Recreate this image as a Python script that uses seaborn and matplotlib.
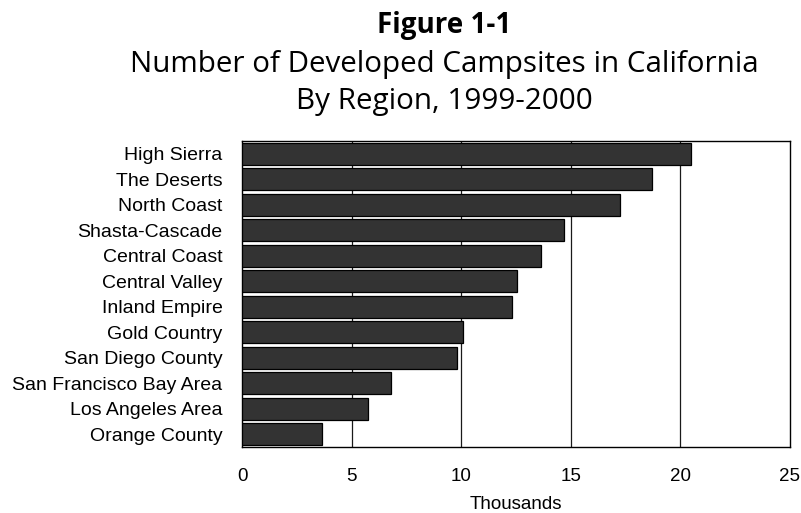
import matplotlib
matplotlib.use("Agg")
import matplotlib.pyplot as plt
import seaborn as sns
import pandas as pd

regions = [
    "High Sierra", "The Deserts", "North Coast", "Shasta-Cascade",
    "Central Coast", "Central Valley", "Inland Empire", "Gold Country",
    "San Diego County", "San Francisco Bay Area", "Los Angeles Area",
    "Orange County",
]
campsites_thousands = [20.5, 18.7, 17.25, 14.7, 13.65, 12.55, 12.3, 10.1,
                       9.83, 6.8, 5.76, 3.67]
x_ticks = [0, 5, 10, 15, 20, 25]

df = pd.DataFrame({"region": regions, "sites": campsites_thousands})

sns.set_theme(style="white")
plt.rcParams["font.family"] = ["Liberation Sans", "DejaVu Sans"]

W, H = 801, 513
fig = plt.figure(figsize=(W / 100, H / 100), dpi=100)
ax = fig.add_axes([242 / W, 1 - 447 / H, 548 / W, 306 / H])

sns.barplot(data=df, x="sites", y="region", orient="h", color="#333333",
            saturation=1, width=0.85, edgecolor="black", linewidth=0.9,
            ax=ax, zorder=3)

ax.set_xlim(0, 25)
ax.set_xticks(x_ticks)
ax.set_xticklabels([str(t) for t in x_ticks])
for t in x_ticks[1:-1]:
    ax.axvline(t, color="#1a1a1a", linewidth=0.9, zorder=1)

for s in ax.spines.values():
    s.set_visible(True)
    s.set_color("black")
    s.set_linewidth(1.0)

ax.tick_params(axis="y", length=0, pad=14, labelsize=14, colors="black")
ax.tick_params(axis="x", length=0, pad=15, labelsize=13.5, colors="black")
ax.set_ylabel("")
ax.set_xlabel("Thousands", fontsize=13.5, color="black", labelpad=8)

cx = 444 / W
fig.text(cx, 1 - 33 / H, "Figure 1-1", ha="center", va="baseline",
         fontsize=20, fontweight="bold", family="Open Sans", color="black")
fig.text(cx, 1 - 72 / H, "Number of Developed Campsites in California",
         ha="center", va="baseline", fontsize=21.3, family="Open Sans",
         color="black")
fig.text(cx, 1 - 109 / H, "By Region, 1999-2000", ha="center", va="baseline",
         fontsize=21.3, family="Open Sans", color="black")

fig.savefig("out.png", dpi=100, facecolor="white")
